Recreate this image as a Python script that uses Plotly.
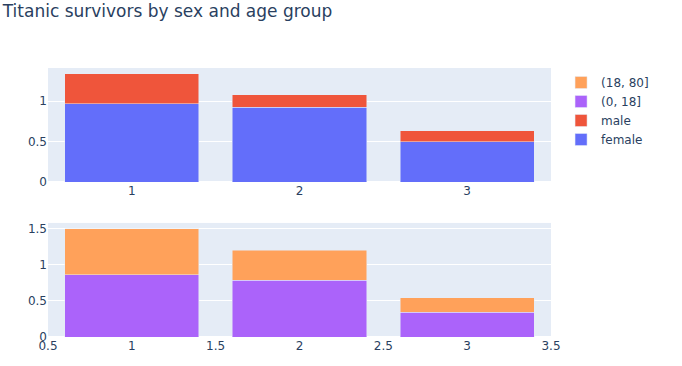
import plotly.graph_objects as go
from plotly.subplots import make_subplots

pclass = [1, 2, 3]
female = [0.968, 0.921, 0.500]
male = [0.369, 0.157, 0.135]
age_0_18 = [0.865, 0.786, 0.340]
age_18_80 = [0.635, 0.414, 0.200]

fig = make_subplots(rows=2, cols=1, vertical_spacing=0.152)

fig.add_trace(go.Bar(x=pclass, y=female, name="female", marker_color="#636EFA"), row=1, col=1)
fig.add_trace(go.Bar(x=pclass, y=male, name="male", marker_color="#EF553B"), row=1, col=1)
fig.add_trace(go.Bar(x=pclass, y=age_0_18, name="(0, 18]", marker_color="#AB63FA"), row=2, col=1)
fig.add_trace(go.Bar(x=pclass, y=age_18_80, name="(18, 80]", marker_color="#FFA15A"), row=2, col=1)

fig.update_layout(
    barmode="stack",
    template="plotly",
    width=682, height=366,
    font=dict(family="DejaVu Sans, Verdana, sans-serif", size=12, color="#2a3f5f"),
    margin=dict(l=48, r=131, t=68, b=29),
    title=dict(text="Titanic survivors by sex and age group", x=0.004, xref="container",
               y=0.985, yanchor="top", font=dict(size=17)),
    legend=dict(traceorder="reversed"),
)
fig.update_xaxes(range=[0.5, 3.5], tickvals=[1, 2, 3], row=1, col=1)
fig.update_xaxes(range=[0.5, 3.5], dtick=0.5, row=2, col=1)

fig.write_html("out.html", config={"displayModeBar": False},
               post_script="document.body.style.margin='0';document.body.style.overflow='hidden';")
